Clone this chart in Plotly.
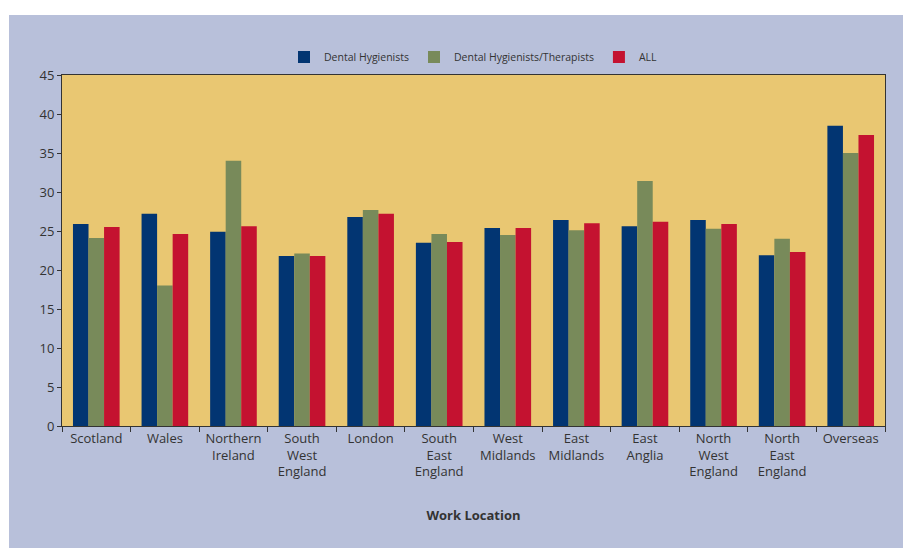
import plotly.graph_objects as go

categories = ["Scotland", "Wales", "Northern<br>Ireland", "South<br>West<br>England", "London",
              "South<br>East<br>England", "West<br>Midlands", "East<br>Midlands", "East<br>Anglia",
              "North<br>West<br>England", "North<br>East<br>England", "Overseas"]
dental_hygienists = [25.9, 27.2, 24.9, 21.8, 26.8, 23.5, 25.4, 26.4, 25.6, 26.4, 21.9, 38.5]
hyg_therapists = [24.1, 18.0, 34.0, 22.1, 27.7, 24.6, 24.5, 25.1, 31.4, 25.3, 24.0, 35.0]
all_values = [25.5, 24.6, 25.6, 21.8, 27.2, 23.6, 25.4, 26.0, 26.2, 25.9, 22.3, 37.3]
y_ticks = [0, 5, 10, 15, 20, 25, 30, 35, 40, 45]

FONT = "Open Sans"
LAV = "#b8c0da"

fig = go.Figure()
fig.add_bar(x=categories, y=dental_hygienists, name="Dental Hygienists",
            marker=dict(color="#023572", line=dict(width=0)))
fig.add_bar(x=categories, y=hyg_therapists, name="Dental Hygienists/Therapists",
            marker=dict(color="#788a5a", line=dict(width=0)))
fig.add_bar(x=categories, y=all_values, name="ALL",
            marker=dict(color="#c41230", line=dict(width=0)))

W, H = 903, 548
l, r, t, b = 62, 18, 75, 122
pw, ph = W - l - r, H - t - b

def px_x(p):
    return (p - l) / pw

def px_y(p):
    return (H - b - p) / ph

fig.update_layout(
    width=W, height=H,
    margin=dict(l=l, r=r, t=t, b=b),
    paper_bgcolor=LAV,
    plot_bgcolor="#e9c772",
    barmode="group",
    bargap=0.32,
    bargroupgap=0,
    font=dict(family=FONT, color="#333333", size=13),
    showlegend=True,
    legend=dict(orientation="h", x=0.5, xanchor="center", y=px_y(57), yanchor="middle",
                font=dict(size=10.5, color="#333333"), bgcolor="rgba(0,0,0,0)",
                itemwidth=30, tracegroupgap=0),
    xaxis=dict(showline=True, linecolor="#333333", linewidth=1, mirror=True,
               ticks="outside", ticklen=5, tickcolor="#333333", tickson="boundaries",
               tickfont=dict(size=13), showgrid=False,
               title=dict(text="<b>Work Location</b>", font=dict(size=13), standoff=31)),
    yaxis=dict(range=[0, 45], tickvals=y_ticks, showline=True, linecolor="#333333", linewidth=1,
               mirror=True, ticks="outside", ticklen=4, tickcolor="#333333",
               tickfont=dict(size=13), showgrid=False, zeroline=False),
    shapes=[
        dict(type="rect", xref="paper", yref="paper", x0=px_x(0), x1=px_x(W), y0=px_y(0), y1=px_y(15),
             fillcolor="white", line_width=0, layer="below"),
        dict(type="rect", xref="paper", yref="paper", x0=px_x(0), x1=px_x(9), y0=px_y(H), y1=px_y(0),
             fillcolor="white", line_width=0, layer="below"),
    ],
)

fig.write_html("out.html")
